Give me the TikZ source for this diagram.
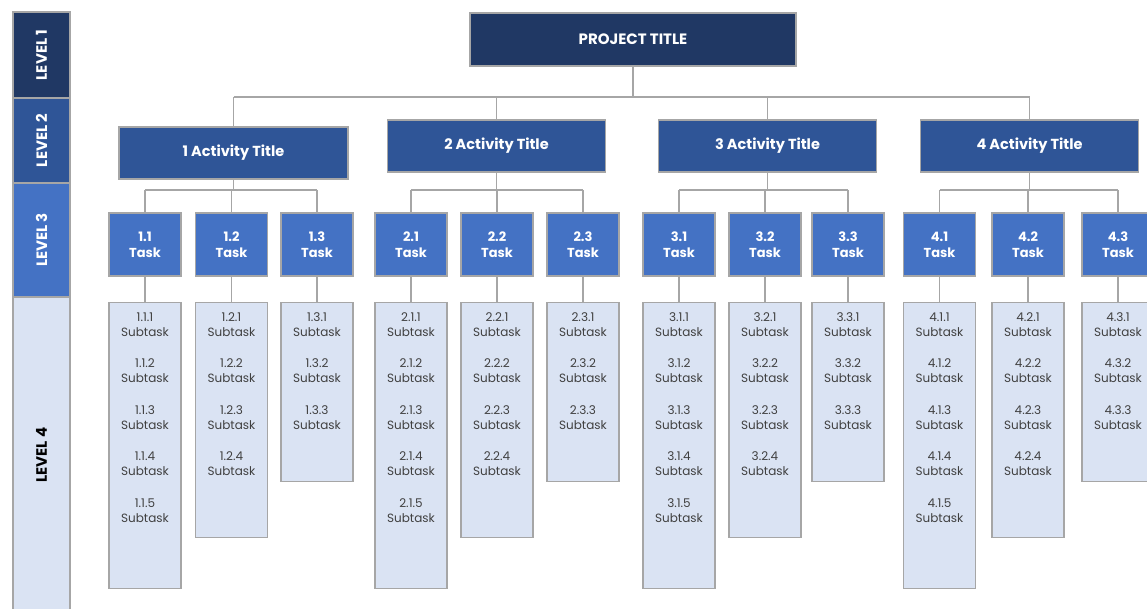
\documentclass[tikz,border=0pt]{standalone}
\usepackage{fontspec}
\setmainfont{Poppins}
\definecolor{navy}{HTML}{203864}
\definecolor{midblue}{HTML}{2F5597}
\definecolor{taskblue}{HTML}{4472C4}
\definecolor{pale}{HTML}{DAE3F3}
\definecolor{linegray}{HTML}{A6A6A6}
\definecolor{subtxt}{HTML}{404040}
\tikzset{
  conn/.style={draw=linegray, line width=1.6pt},
  basebox/.style={draw=linegray, line width=1.2pt, rectangle, inner sep=0pt},
  titlebox/.style={basebox, fill=navy, text=white, minimum width=326pt, minimum height=53pt, font=\bfseries\fontsize{15}{18}\selectfont},
  actbox/.style={basebox, fill=midblue, text=white, minimum width=218pt, minimum height=52pt, font=\bfseries\fontsize{14.5}{18}\selectfont},
  taskbox/.style={basebox, fill=taskblue, text=white, minimum width=72pt, minimum height=63pt, align=center, font=\bfseries\fontsize{13}{16}\selectfont},
  subbox/.style={basebox, fill=pale, minimum width=72pt},
  subtext/.style={inner sep=0pt, align=center, text=subtxt, font=\fontsize{12}{15}\selectfont},
  lvl/.style={basebox, rotate=90, minimum width=#1, minimum height=57pt, font=\bfseries\fontsize{15}{18}\selectfont},
}
\begin{document}
\begin{tikzpicture}[x=1pt,y=-1pt]
\clip (0,0) rectangle (1147,608);
\fill[white] (0,0) rectangle (1147,608);
% level bar
\node[lvl=86pt, fill=navy, text=white] (lv1) at (41.5,55) {LEVEL 1};
\node[lvl=85pt, fill=midblue, text=white] (lv2) at (41.5,140.5) {LEVEL 2};
\node[lvl=114pt, fill=taskblue, text=white] (lv3) at (41.5,240) {LEVEL 3};
\node[lvl=316pt, fill=pale, text=black] (lv4) at (41.5,455) {LEVEL 4};
% title
\node[titlebox] (title) at (633,39.5) {PROJECT TITLE};
% activities
\node[actbox, minimum width=229pt] (a1) at (233.5,153) {1 Activity Title};
\node[actbox] (a2) at (496.5,146) {2 Activity Title};
\node[actbox] (a3) at (767.5,146) {3 Activity Title};
\node[actbox] (a4) at (1029.5,146) {4 Activity Title};
\coordinate (bus) at (0,97);
\coordinate (br) at (0,190);
\draw[conn] (title.south) -- (title.south |- bus);
\draw[conn] (a1.north |- bus) -- (a4.north |- bus);
\foreach \a in {1,2,3,4}{
  \draw[conn] (a\a.north) -- (a\a.north |- bus);
  \draw[conn] (a\a.south) -- (a\a.south |- br);
}
% tasks and subtasks
\foreach \g/\t/\cx in {1/1/145,1/2/231.5,1/3/317,2/1/411,2/2/497,2/3/583,3/1/679,3/2/765,3/3/848,4/1/939.5,4/2/1028,4/3/1118}{
  \node[taskbox] (t\g\t) at (\cx,244.5) {\g.\t\\Task};
  \pgfmathsetmacro\h{\t==1 ? 286 : (\t==2 ? 235 : 179)}
  \node[subbox, minimum height=\h pt, anchor=north] (s\g\t) at (\cx,302) {};
  \draw[conn] (t\g\t.south) -- (s\g\t.north);
  \draw[conn] (t\g\t.north) -- (t\g\t.north |- br);
  \pgfmathtruncatemacro\n{6-\t}
  \foreach \k in {1,...,\n}{
    \node[subtext] (s\g\t-\k) at (\cx,{324.5+46.5*(\k-1)}) {\g.\t.\k\\Subtask};
  }
}
\foreach \g in {1,2,3,4}{
  \draw[conn] (t\g1.north |- br) -- (t\g3.north |- br);
}
\end{tikzpicture}
\end{document}
